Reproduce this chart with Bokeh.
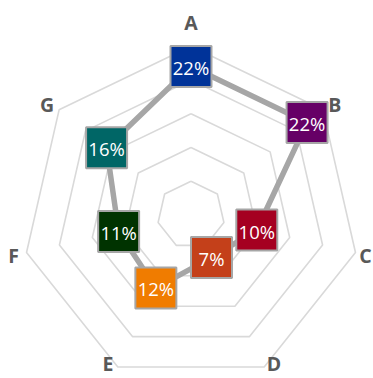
import math
from bokeh.plotting import figure
from bokeh.models import Range1d, ColumnDataSource
from bokeh.core.properties import value
from bokeh.embed import file_html
from bokeh.resources import INLINE

# --- data ---------------------------------------------------------------
categories = ["A", "B", "C", "D", "E", "F", "G"]
shares = [22, 22, 10, 7, 12, 11, 16]          # percent
point_colors = ["#003399", "#660066", "#a50021", "#c4401a",
                "#f07c00", "#003300", "#006666"]
ring_levels = [5, 10, 15, 20, 25]              # percent

# --- layout -------------------------------------------------------------
W, H = 373, 378
CX, CY = 190.5, 214.5            # chart centre in canvas pixels
R_OUT = 168.7                    # pixel radius of the outermost ring
PX = R_OUT / ring_levels[-1]     # pixels per percent

p = figure(width=W, height=H, output_backend="svg", toolbar_location=None,
           x_range=Range1d(-CX / PX, (W - CX) / PX),
           y_range=Range1d(-(H - CY) / PX, CY / PX),
           min_border=0, outline_line_color=None, background_fill_color="white")
p.axis.visible = False
p.grid.visible = False

n = len(categories)
angles = [2 * math.pi * i / n for i in range(n)]   # clockwise from top


def polar(r, a):
    return r * math.sin(a), r * math.cos(a)


# heptagonal grid rings
ring_xs, ring_ys = [], []
for lv in ring_levels:
    pts = [polar(lv, a) for a in angles] + [polar(lv, angles[0])]
    ring_xs.append([q[0] for q in pts])
    ring_ys.append([q[1] for q in pts])
p.multi_line(ring_xs, ring_ys, line_color="#d9d9d9", line_width=1.6)

# series outline
pts = [polar(v, a) for v, a in zip(shares, angles)]
px = [q[0] for q in pts]
py = [q[1] for q in pts]
p.line(px + [px[0]], py + [py[0]], line_color="#a6a6a6", line_width=5.5,
       line_join="round")

src = ColumnDataSource(dict(x=px, y=py, c=point_colors,
                            lab=[f"{v}%" for v in shares]))
p.scatter("x", "y", source=src, marker="square", size=41,
          fill_color="c", line_color="#a6a6a6", line_width=2)
p.text("x", "y", text="lab", source=src, text_color="white",
       text_font=value("Open Sans"), text_font_size="18.5px",
       text_align="center", text_baseline="middle", y_offset=1)

# category labels just outside each outer vertex
vx, vy, ox, oy = [], [], [], []
for a in angles:
    x, y = polar(ring_levels[-1], a)
    s, c = math.sin(a), math.cos(a)
    dx = 13 * math.copysign(abs(s) ** (1 / 3), s) if abs(s) > 1e-9 else 0.0
    screen_x = CX + x * PX
    # keep the label inside the canvas horizontally
    dx = max(min(dx, (W - 8) - screen_x), 8 - screen_x)
    if c > 0:
        dy = -24 * c ** 3
    else:
        dy = 14 * -c
        screen_y = CY - y * PX
        dy = min(dy, (H - 15) - screen_y)
    vx.append(x)
    vy.append(y)
    ox.append(dx)
    oy.append(dy)
p.text(vx, vy, text=categories, x_offset=ox, y_offset=oy,
       text_color="#595959", text_font=value("Open Sans"),
       text_font_style="bold", text_font_size="19.5px",
       text_align="center", text_baseline="middle")

open("out.html", "w").write(file_html(p, INLINE))
